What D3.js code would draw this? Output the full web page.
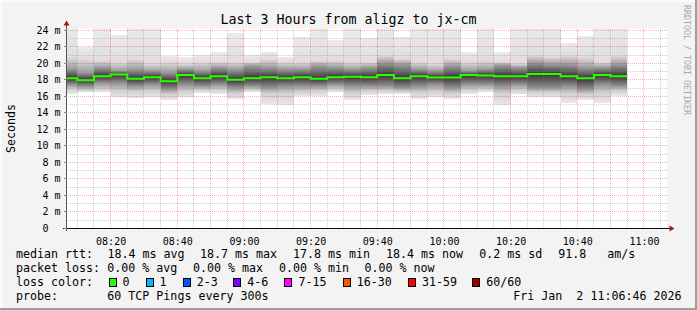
<!DOCTYPE html>
<html><head><meta charset="utf-8">
<script src="https://cdn.jsdelivr.net/npm/d3@7"></script>
<style>
html,body{margin:0;padding:0;background:#f3f3f3;}
svg{display:block;}
text{font-family:"DejaVu Sans Mono",monospace;white-space:pre;}
</style></head><body>
<svg id="chart" width="697" height="310" xml:space="preserve"></svg>
<script>
// ---------------- data ----------------
const title = "Last 3 Hours from aligz to jx-cm";
const yAxisTitle = "Seconds";
const watermark = "RRDTOOL / TOBI OETIKER";
const startTime = "2026-01-02 08:06:46";
const endTime = "2026-01-02 11:06:46";
const firstBarStart = "2026-01-02 08:05:00";
const stepSeconds = 300;
const yMaxMs = 24.24;

// median rtt per 5-minute step (ms)
const medianMs = [18.22,17.98,18.46,18.67,18.14,18.34,17.86,18.59,18.22,18.46,
                  18.02,18.22,18.34,18.22,18.34,18.14,18.34,18.40,18.34,18.59,
                  18.20,18.46,18.30,18.30,18.59,18.55,18.46,18.46,18.72,18.72,
                  18.46,18.20,18.59,18.46];
// smoke extents (ms)
const smokeHighMs = [24.5,22.0,24.5,23.4,24.5,24.5,20.9,20.77,21.05,21.37,
                     23.72,21.05,21.45,20.77,23.19,24.5,22.79,24.5,23.07,24.5,
                     23.19,24.5,24.5,24.5,21.45,24.5,21.45,24.5,24.5,24.5,
                     22.5,23.39,24.5,24.5];
const smokeUpperMidMs = [20.8,20.57,20.36,20.16,20.57,19.96,20.16,19.96,20.16,20.16,
                         20.16,20.16,20.57,20.16,20.16,20.36,20.36,20.16,20.16,20.97,
                         20.57,20.16,19.96,20.57,20.16,20.36,20.16,19.96,20.97,20.77,
                         20.97,20.77,20.16,20.97];
const smokeUpperDarkMs = [19.4,18.95,19.56,19.15,19.35,19.15,18.95,19.35,19.15,19.56,
                          19.35,19.76,19.56,19.35,19.35,19.76,19.56,19.35,19.56,20.16,
                          19.96,19.35,19.15,19.76,19.15,19.35,19.84,19.56,20.16,19.96,
                          19.96,19.56,19.56,19.96];
const smokeLowerDarkMs = [17.5,17.3,17.74,17.74,17.33,17.54,16.93,17.54,17.33,17.54,
                          17.13,17.33,17.13,17.33,17.33,17.33,17.54,17.33,17.33,17.33,
                          17.13,17.33,17.54,17.13,17.54,17.54,17.33,17.54,17.13,17.13,
                          17.33,16.93,17.54,17.33];
const smokeLowerMidMs = [16.9,16.73,16.9,16.7,16.6,16.7,16.3,16.6,16.8,16.8,
                         16.4,16.8,16.4,16.4,16.6,16.7,16.9,16.5,16.7,16.7,
                         16.6,16.5,16.6,16.4,16.8,16.9,16.4,16.8,16.5,16.5,
                         16.4,16.3,16.5,16.7];
const smokeLowMs = [16.3,16.5,16.5,15.9,15.8,15.9,15.6,15.9,16.4,16.3,
                    15.7,16.5,15.1,15.0,16.0,16.1,16.5,15.6,16.2,16.3,
                    16.3,15.7,15.9,15.7,16.3,16.5,15.0,16.25,15.9,15.9,
                    15.2,15.6,15.2,16.1];

const yTicks = [0,2,4,6,8,10,12,14,16,18,20,22,24];
const yTickLabels = ["0  ","2 m","4 m","6 m","8 m","10 m","12 m","14 m","16 m","18 m","20 m","22 m","24 m"];
const xTickLabels = ["08:20","08:40","09:00","09:20","09:40","10:00","10:20","10:40","11:00"];

const rttValues = [18.4, 18.7, 17.8, 18.4, 0.2];
const rttNames = ["avg","max","min","now","sd"];
const ampsValue = 91.8;
const lossValues = [0.00, 0.00, 0.00, 0.00];
const lossNames = ["avg","max","min","now"];
const lossLabels = ["0","1","2-3","4-6","7-15","16-30","31-59","60/60"];
const lossColors = ["#26ff00","#00b8ff","#0059ff","#7e00ff","#ff00ff","#ff5500","#ff0000","#a10000"];
const probeText = "60 TCP Pings every 300s";
const dateText = "Fri Jan  2 11:06:46 2026";

// ---------------- layout / style ----------------
const plotL = 66.5, plotR = 666.5, plotT = 28.5, plotB = 228.5;
const smokeShades = ["#ebebeb","#dedede","#a0a0a0","#363636","#8c8c8c","#d0d0d0","#e8e8e8"];
const rttX = [107.5, 200, 293, 386, 479.3];
const lossX = [107.3, 193, 279, 364.4];
const lossBoxX = [108.5, 145.5, 182.7, 233.3, 284.4, 342.7, 408, 472.3];
const majorGrid = "rgba(255,0,0,0.32)", minorGrid = "rgba(130,130,130,0.4)";

const parse = d3.timeParse("%Y-%m-%d %H:%M:%S");
const t0 = parse(startTime), t1 = parse(endTime);
const x = d3.scaleTime().domain([t0, t1]).range([plotL, plotR]);
const y = d3.scaleLinear().domain([0, yMaxMs]).range([plotB, plotT]);
const crisp = v => Math.round(v - 0.5) + 0.5;

const svg = d3.select("#chart");
svg.append("rect").attr("width",697).attr("height",310).attr("fill","#f3f3f3");
svg.append("rect").attr("x",0).attr("y",0).attr("width",697).attr("height",2).attr("fill","#fbfbfb");
svg.append("rect").attr("x",0).attr("y",0).attr("width",2).attr("height",310).attr("fill","#fbfbfb");
svg.append("rect").attr("x",695).attr("y",0).attr("width",2).attr("height",310).attr("fill","#9e9e9e");
svg.append("rect").attr("x",0).attr("y",308).attr("width",697).attr("height",2).attr("fill","#9e9e9e");

const defs = svg.append("defs");
defs.append("clipPath").attr("id","plotclip").append("rect")
  .attr("x",plotL+0.5).attr("y",plotT).attr("width",plotR-plotL).attr("height",plotB-plotT);

// plot background
svg.append("rect").attr("x",plotL+0.5).attr("y",plotT).attr("width",plotR-plotL).attr("height",plotB-plotT).attr("fill","#ffffff");

// smoke
const barStart = parse(firstBarStart);
const bars = medianMs.map((m,i)=>({
  s: d3.timeSecond.offset(barStart, i*stepSeconds),
  e: d3.timeSecond.offset(barStart, (i+1)*stepSeconds),
  med: m, hi: smokeHighMs[i], um: smokeUpperMidMs[i], ud: smokeUpperDarkMs[i],
  ld: smokeLowerDarkMs[i], lm: smokeLowerMidMs[i], lo: smokeLowMs[i]
}));
bars.forEach((b,i)=>{
  const yTop = y(b.hi), yBot = y(b.lo), h = yBot - yTop;
  const g = defs.append("linearGradient").attr("id","sg"+i).attr("gradientUnits","userSpaceOnUse")
    .attr("x1",0).attr("x2",0).attr("y1",yTop).attr("y2",yBot);
  [b.hi,b.um,b.ud,b.med,b.ld,b.lm,b.lo].forEach((v,k)=>{
    g.append("stop").attr("offset",((y(v)-yTop)/h).toFixed(4)).attr("stop-color",smokeShades[k]);
  });
});
const smokeG = svg.append("g").attr("clip-path","url(#plotclip)");
smokeG.selectAll("rect").data(bars).join("rect")
  .attr("x", d=>Math.round(x(d.s)))
  .attr("width", d=>Math.round(x(d.e))-Math.round(x(d.s)))
  .attr("y", d=>y(d.hi))
  .attr("height", d=>y(d.lo)-y(d.hi))
  .attr("fill", (d,i)=>`url(#sg${i})`)
  .attr("shape-rendering","crispEdges");

// grid
const gridG = svg.append("g").attr("shape-rendering","crispEdges").attr("stroke-dasharray","1,1");
const minorTimes = d3.timeMinute.every(5).range(t0, t1);
minorTimes.forEach(t=>{
  const major = t.getMinutes() % 20 === 0;
  gridG.append("line").attr("x1",crisp(x(t))).attr("x2",crisp(x(t)))
    .attr("y1",plotT).attr("y2",plotB-1)
    .attr("stroke", major ? majorGrid : minorGrid);
});
for (let v = 1; v <= 24; v++) {
  const major = v % 2 === 0;
  gridG.append("line").attr("x1",plotL+1).attr("x2",plotR+1)
    .attr("y1",crisp(y(v))).attr("y2",crisp(y(v)))
    .attr("stroke", major ? majorGrid : minorGrid);
}

// median line
const pts = bars.map(b=>[x(b.s), y(b.med)]);
pts.push([x(bars[bars.length-1].e), y(bars[bars.length-1].med)]);
svg.append("path").attr("clip-path","url(#plotclip)")
  .attr("d", d3.line().curve(d3.curveStepAfter)(pts))
  .attr("fill","none").attr("stroke",lossColors[0]).attr("stroke-width",2);

// axes
const arrowCol = "#a01818";
svg.append("line").attr("x1",63).attr("x2",671).attr("y1",plotB).attr("y2",plotB).attr("stroke","#111").attr("shape-rendering","crispEdges");
svg.append("line").attr("x1",plotL).attr("x2",plotL).attr("y1",231).attr("y2",24).attr("stroke","#555").attr("shape-rendering","crispEdges");
svg.append("path").attr("d",`M${plotR+8},${plotB} L${plotR+3},${plotB-3} L${plotR+3},${plotB+3} Z`).attr("fill",arrowCol);
svg.append("path").attr("d",`M${plotL},${plotT-8} L${plotL-3},${plotT-3} L${plotL+3},${plotT-3} Z`).attr("fill",arrowCol);

// y axis labels via d3 axis
const yAxis = d3.axisLeft(y).tickValues(yTicks).tickSize(3).tickPadding(3)
  .tickFormat((d,i)=>yTickLabels[i]);
const yg = svg.append("g").attr("transform",`translate(${plotL},0)`).call(yAxis);
yg.select(".domain").remove();
yg.selectAll(".tick line").attr("stroke","#888").attr("shape-rendering","crispEdges");
yg.selectAll(".tick").attr("transform",d=>`translate(0,${crisp(y(d))})`);
yg.selectAll("text").attr("font-family","DejaVu Sans Mono").attr("font-size","10px").attr("fill","#000")
  .attr("xml:space","preserve").attr("dy","0.35em");

// x axis labels
const xTickDates = xTickLabels.map(l=>parse("2026-01-02 "+l+":00"));
const xAxis = d3.axisBottom(x).tickValues(xTickDates).tickSize(0).tickPadding(9)
  .tickFormat((d,i)=>xTickLabels[i]);
const xg = svg.append("g").attr("transform",`translate(0,${plotB})`).call(xAxis);
xg.select(".domain").remove();
xg.selectAll("text").attr("font-family","DejaVu Sans Mono").attr("font-size","10px").attr("fill","#000");

// title
svg.append("text").attr("x",348.5).attr("y",24).attr("text-anchor","middle")
  .attr("font-size","13.3px").attr("fill","#000").text(title);
// y axis title
svg.append("text").attr("transform","translate(15.3,128.5) rotate(-90)").attr("text-anchor","middle")
  .attr("font-size","11.65px").attr("fill","#000").text(yAxisTitle);
// watermark
svg.append("text").attr("transform","translate(683.5,5) rotate(90)").attr("text-anchor","start")
  .attr("font-size","8.3px").attr("fill","#a8a8a8").text(watermark);

// legend
const lf = "11.65px";
const leg = (tx, xx, yy, anchor) => svg.append("text").attr("x",xx).attr("y",yy)
  .attr("font-size",lf).attr("fill","#000").attr("text-anchor",anchor||"start").text(tx);
leg("median rtt:", 16, 258);
rttValues.forEach((v,i)=>leg(`${v.toFixed(1)} ms ${rttNames[i]}`, rttX[i], 258));
leg(ampsValue.toFixed(1), 558.3, 258);
leg("am/s", 607.3, 258);
leg("packet loss:", 16, 272);
lossValues.forEach((v,i)=>leg(`${v.toFixed(2)} % ${lossNames[i]}`, lossX[i], 272));
leg("loss color:", 16, 286);
lossLabels.forEach((l,i)=>{
  svg.append("rect").attr("x",Math.round(lossBoxX[i])+0.5).attr("y",278.5).attr("width",7).attr("height",8)
    .attr("fill",lossColors[i]).attr("stroke","#000").attr("shape-rendering","crispEdges");
  leg(l, lossBoxX[i]+14, 286);
});
leg("probe:", 16, 300);
leg(probeText, 107.3, 300);
leg(dateText, 681.5, 300, "end");
</script>
</body></html>
